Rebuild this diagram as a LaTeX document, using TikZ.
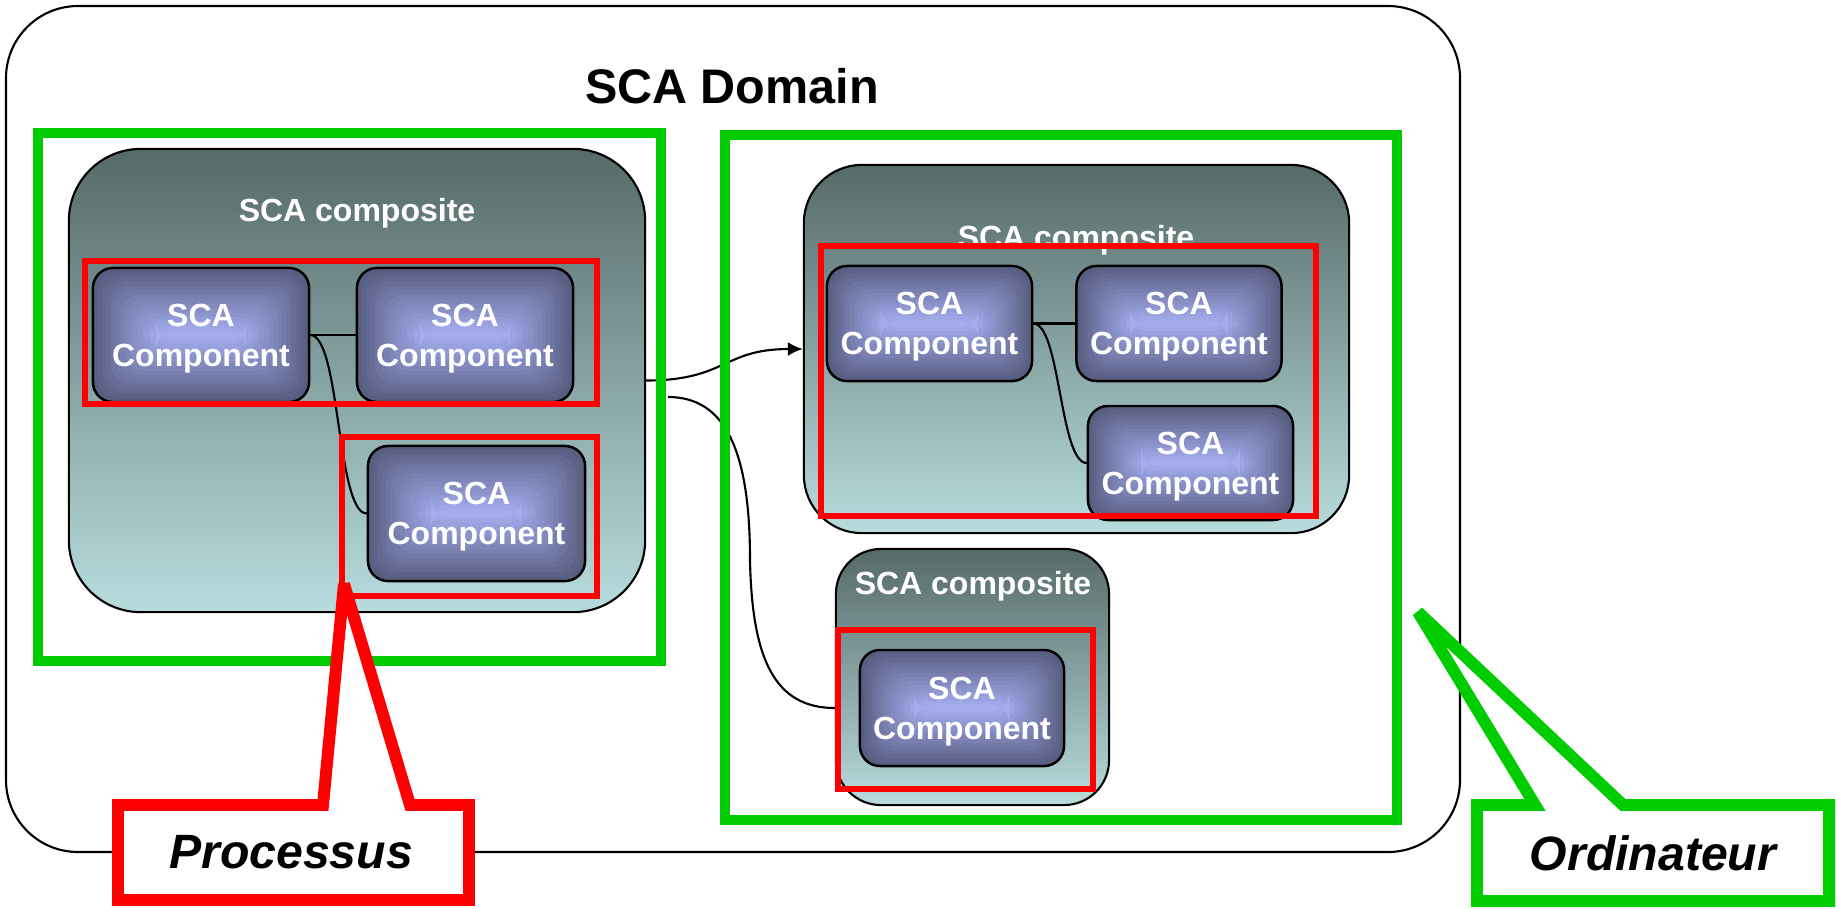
\documentclass[tikz,border=0pt]{standalone}
\usepackage{fontspec}
\setmainfont{Liberation Sans}
\usetikzlibrary{arrows.meta,calc}
\definecolor{grn}{HTML}{00CC00}
\definecolor{rd}{HTML}{FF0000}
\definecolor{ctop}{HTML}{566A68}
\definecolor{cbot}{HTML}{B8DCDE}
\definecolor{cout}{HTML}{585E80}
\definecolor{cin}{HTML}{A4ACEE}
\tikzset{
  composite/.style 2 args={draw=black, line width=0.6pt, top color=ctop, bottom color=cbot,
     rounded corners=#2, minimum width=#1, inner sep=0pt},
  complabel/.style={text=white, font=\bfseries\fontsize{9.1}{11}\selectfont, anchor=base},
  compfill/.style={path picture={
     \foreach \i in {0,...,14}{
       \pgfmathtruncatemacro{\pc}{round(100*\i/14)}
       \fill[cin!\pc!cout] ([shift={({\i*#1cm},{\i*#1cm})}]path picture bounding box.south west)
          rectangle ([shift={({-\i*#1cm},{-\i*#1cm})}]path picture bounding box.north east);
     }}},
  component/.style={draw=black, line width=0.7pt, rounded corners=0.2cm, text=white,
     align=center, text depth=0pt, inner sep=0pt,
     font=\bfseries\fontsize{9.1}{11.4}\selectfont},
  conn/.style={draw=black, line width=0.6pt},
  redbox/.style={draw=rd, line width=1.7pt},
  greenbox/.style={draw=grn, line width=2.85pt},
  callout/.style={fill=white, line width=3.4pt, line join=miter, miter limit=3},
  callouttext/.style={font=\bfseries\itshape\fontsize{13.7}{16}\selectfont}
}
\begin{document}
\begin{tikzpicture}[x=0.01cm,y=-0.01cm]
\useasboundingbox (0,0) rectangle (1836,908);
\fill[white] (0,0) rectangle (1836,908);

% domain
\draw[line width=0.6pt, rounded corners=0.72cm] (6,6) rectangle (1460,852);
\node[font=\bfseries\fontsize{13.8}{16}\selectfont] (domain) at (732,86) {SCA Domain};

% composites
\node[composite={5.76cm}{0.72cm}, minimum height=4.63cm] (lcomp) at (357,380.5) {};
\node[composite={5.45cm}{0.58cm}, minimum height=3.68cm] (rcomp) at (1076.5,349) {};
\node[composite={2.73cm}{0.45cm}, minimum height=2.56cm] (bcomp) at (972.5,677) {};
\node[complabel] (lcl) at (357,221) {SCA composite};
\node[complabel] (rcl) at (1076,248) {SCA composite};
\node[complabel] (bcl) at (973,594) {SCA composite};

% components
\node[component, compfill=0.0447, minimum width=2.16cm, minimum height=1.34cm] (c1) at (201,335) {SCA\\Component};
\node[component, compfill=0.0447, minimum width=2.16cm, minimum height=1.34cm] (c2) at (465,335) {SCA\\Component};
\node[component, compfill=0.045, minimum width=2.17cm, minimum height=1.35cm] (c3) at (476.5,513.5) {SCA\\Component};
\node[component, compfill=0.0383, minimum width=2.05cm, minimum height=1.15cm] (c4) at (929.5,323.5) {SCA\\Component};
\node[component, compfill=0.0383, minimum width=2.05cm, minimum height=1.15cm] (c5) at (1179,323.5) {SCA\\Component};
\node[component, compfill=0.038, minimum width=2.05cm, minimum height=1.14cm] (c6) at (1190.5,463) {SCA\\Component};
\node[component, compfill=0.0387, minimum width=2.04cm, minimum height=1.16cm] (c7) at (962,708) {SCA\\Component};

% wires inside composites
\draw[conn] (c1.east) -- (c2.west);
\draw[conn] (c1.east) .. controls +(30,0) and +(-30,0) .. (c3.west);
\draw[conn] (c4.east) -- (c5.west);
\draw[conn] (c4.east) .. controls +(27,0) and +(-27,0) .. (c6.west);

% wires between composites
\draw[conn, -{Latex[length=0.15cm,width=0.14cm]}] (lcomp.east) .. controls +(80,0) and +(-80,0) .. (rcomp.west);
\coordinate (w2) at (668,397);
\draw[conn] (w2) .. controls (725,397) and (750,450) .. (750,560)
   .. controls (752,660) and (775,708) .. (bcomp.west |- c7);

% red boxes
\draw[redbox] (85,261) rectangle (597,404);
\draw[redbox] (342,437) rectangle (597,596);
\draw[redbox] (821,246) rectangle (1316,516);
\draw[redbox] (838,630) rectangle (1093,789);

% green boxes
\draw[greenbox] (38,133) rectangle (661,661);
\draw[greenbox] (725,135) rectangle (1397,820);

% callouts
\draw[callout, draw=rd] (118,805) -- (323,805) -- (344,584) -- (410,805) -- (469,805)
   -- (469,900) -- (118,900) -- cycle;
\node[callouttext] (proc) at (291,852) {Processus};
\draw[callout, draw=grn] (1477,805) -- (1535,805) -- (1418,612) -- (1623,805) -- (1829,805)
   -- (1829,901) -- (1477,901) -- cycle;
\node[callouttext] (ordi) at (1653,853) {Ordinateur};
\end{tikzpicture}
\end{document}
